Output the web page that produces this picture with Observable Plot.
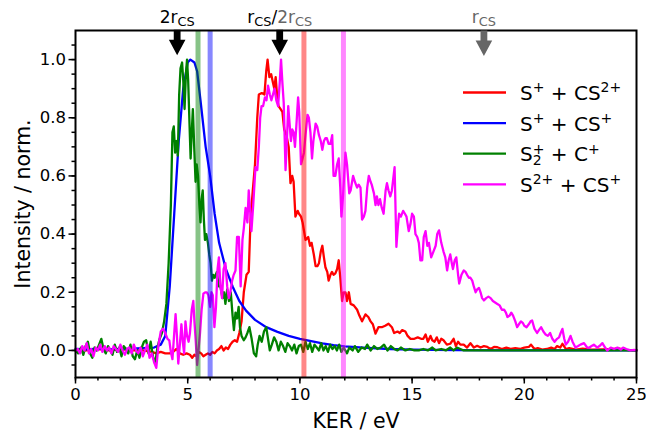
<!DOCTYPE html>
<html>
<head>
<meta charset="utf-8">
<script src="https://cdn.jsdelivr.net/npm/d3@7"></script>
<script src="https://cdn.jsdelivr.net/npm/@observablehq/plot@0.6"></script>
<style>
html,body{margin:0;padding:0;background:#fff;}
#chart svg{display:block;}
</style>
</head>
<body>
<div id="chart"></div>
<script>
// ---- Data (KER in eV, normalized intensity) ----
const seriesLabels = ["S^{+} + CS^{2+}", "S^{+} + CS^{+}", "S_{2}^{+} + C^{+}", "S^{2+} + CS^{+}"];
const seriesColors = ["#ff0000", "#0000ff", "#008000", "#ff00ff"];

const redData = [[0,0],[0.5,0],[1,0.005],[1.5,0],[2,0.005],[2.5,0],[3,0],[3.4,-0.005],[3.6,-0.01],[3.8,-0.005],[4,-0.01],[4.2,-0.01],[4.35,-0.005],[4.5,0.005],[4.65,-0.01],[4.8,-0.015],[4.95,-0.01],[5.1,-0.015],[5.2,-0.025],[5.3,-0.015],[5.4,-0.02],[5.5,-0.005],[5.6,-0.01],[5.7,-0.02],[5.8,-0.015],[5.9,-0.01],[6,-0.015],[6.1,-0.005],[6.2,-0.01],[6.3,0],[6.4,0.005],[6.5,0.015],[6.6,0],[6.7,0.01],[6.8,0.005],[6.9,0.02],[7,0.03],[7.1,0.035],[7.2,0.03],[7.3,0.06],[7.4,0.1],[7.5,0.2],[7.62,0.26],[7.72,0.27],[7.8,0.45],[7.9,0.55],[8,0.64],[8.1,0.8],[8.17,0.88],[8.3,0.885],[8.42,0.88],[8.5,0.96],[8.56,1.0],[8.64,0.94],[8.72,0.95],[8.8,0.92],[8.86,0.9],[8.92,0.94],[9,0.86],[9.05,0.84],[9.14,0.83],[9.22,0.82],[9.3,0.76],[9.4,0.74],[9.5,0.7],[9.58,0.575],[9.66,0.6],[9.72,0.58],[9.8,0.46],[9.9,0.48],[9.96,0.47],[10.05,0.46],[10.12,0.44],[10.25,0.38],[10.37,0.39],[10.45,0.36],[10.52,0.37],[10.62,0.33],[10.7,0.29],[10.78,0.29],[10.85,0.3],[10.93,0.34],[11,0.36],[11.07,0.32],[11.14,0.285],[11.22,0.27],[11.28,0.24],[11.36,0.26],[11.43,0.27],[11.5,0.26],[11.58,0.265],[11.66,0.28],[11.73,0.31],[11.8,0.25],[11.88,0.17],[11.95,0.2],[12.03,0.2],[12.1,0.17],[12.18,0.2],[12.26,0.16],[12.4,0.155],[12.55,0.14],[12.65,0.12],[12.77,0.1],[12.92,0.124],[13.05,0.115],[13.15,0.1],[13.25,0.09],[13.37,0.058],[13.5,0.08],[13.65,0.08],[13.8,0.085],[13.95,0.092],[14.1,0.08],[14.2,0.06],[14.35,0.065],[14.45,0.06],[14.56,0.07],[14.7,0.065],[14.8,0.05],[14.93,0.04],[15.1,0.04],[15.25,0.045],[15.4,0.04],[15.5,0.04],[15.6,0.055],[15.7,0.03],[15.82,0.05],[15.9,0.035],[16,0.03],[16.1,0.045],[16.2,0.025],[16.3,0.04],[16.4,0.035],[16.55,0.02],[16.7,0.023],[16.85,0.04],[16.95,0.015],[17.05,0.03],[17.15,0.02],[17.3,0.02],[17.45,0.01],[17.6,0.025],[17.75,0.01],[17.9,0.016],[18.05,0.01],[18.2,0.015],[18.35,0.012],[18.5,0.005],[18.65,0.012],[18.8,0.011],[19,0.005],[19.2,0.01],[19.4,0.005],[19.6,0.008],[19.8,0.005],[20,0.01],[20.2,0.012],[20.3,0.02],[20.45,0.005],[20.6,0.008],[20.8,0.003],[21,0.005],[21.2,0.01],[21.35,0.005],[21.46,0.015],[21.6,0.01],[21.7,0.023],[21.85,0.005],[22,0.008],[22.3,0.003],[22.6,0.006],[23,0.003],[23.5,0.004],[24,0.005],[24.14,0.008],[24.5,0.002],[25,0]];

const blueData = [[0,0.005],[0.5,0.004],[1,0.006],[1.5,0.004],[2,0.005],[2.5,0.006],[3,0.008],[3.5,0.01],[3.8,0.02],[4,0.05],[4.2,0.22],[4.4,0.47],[4.6,0.72],[4.8,0.9],[5,0.99],[5.12,1],[5.3,0.99],[5.42,0.96],[5.57,0.86],[5.8,0.7],[6,0.6],[6.2,0.47],[6.4,0.37],[6.7,0.28],[7,0.22],[7.3,0.17],[7.6,0.137],[8,0.105],[8.5,0.08],[9,0.064],[9.5,0.05],[10,0.04],[10.5,0.032],[11,0.024],[11.5,0.018],[12,0.014],[13,0.009],[14,0.005],[15,0.003],[17,0.001],[20,0],[25,0]];

const greenData = [[0,0],[0.12,-0.01],[0.25,0.01],[0.35,-0.015],[0.45,0.015],[0.55,0.03],[0.65,-0.01],[0.75,-0.025],[0.85,0.01],[0.95,0],[1.05,0.02],[1.15,0.04],[1.25,0.005],[1.35,-0.01],[1.45,0.015],[1.55,0],[1.65,-0.015],[1.75,0.02],[1.85,-0.005],[1.95,0.01],[2.05,-0.02],[2.15,0.015],[2.25,0.005],[2.35,-0.01],[2.45,0.02],[2.55,-0.02],[2.65,-0.03],[2.75,0],[2.85,-0.025],[2.95,0.01],[3.05,0.03],[3.15,0.035],[3.25,-0.01],[3.35,0.03],[3.45,-0.02],[3.55,-0.045],[3.65,0.01],[3.75,0.04],[3.85,0.06],[3.95,0.1],[4.05,0.16],[4.15,0.3],[4.25,0.5],[4.32,0.75],[4.38,0.77],[4.44,0.68],[4.5,0.72],[4.56,0.67],[4.62,0.88],[4.68,0.97],[4.75,0.99],[4.8,0.93],[4.86,0.83],[4.92,0.95],[4.97,1.0],[5.02,0.93],[5.08,0.78],[5.13,0.66],[5.18,0.75],[5.23,0.83],[5.29,0.7],[5.35,0.58],[5.4,0.64],[5.46,0.6],[5.52,0.5],[5.57,0.44],[5.62,0.52],[5.67,0.55],[5.72,0.45],[5.77,0.38],[5.83,0.4],[5.9,0.37],[5.96,0.33],[6.02,0.3],[6.08,0.24],[6.14,0.26],[6.2,0.25],[6.3,0.27],[6.38,0.22],[6.46,0.22],[6.55,0.18],[6.62,0.2],[6.68,0.16],[6.76,0.21],[6.84,0.17],[6.92,0.2],[7,0.12],[7.06,0.07],[7.13,0.13],[7.2,0.11],[7.27,0.15],[7.33,0.08],[7.4,0.05],[7.5,0.035],[7.58,0.045],[7.66,0.06],[7.75,0.08],[7.85,0.04],[7.95,-0.01],[8.05,-0.02],[8.12,0.02],[8.2,0.05],[8.3,0.03],[8.4,0.065],[8.5,0.08],[8.58,0.04],[8.66,0],[8.75,0.02],[8.85,0.045],[8.95,0.03],[9.05,0],[9.15,0.03],[9.25,0.015],[9.35,-0.005],[9.45,0.025],[9.55,0.015],[9.65,0],[9.75,0.02],[9.85,-0.01],[9.95,0.015],[10.05,0.02],[10.15,-0.005],[10.25,0.03],[10.35,0.005],[10.45,0.025],[10.55,-0.005],[10.65,0.02],[10.75,0.01],[10.85,0],[10.95,0.025],[11.05,0],[11.15,0.015],[11.25,-0.005],[11.35,0.02],[11.45,0.005],[11.55,0.015],[11.65,0],[11.75,0.02],[11.85,-0.005],[11.95,0.01],[12.1,-0.01],[12.2,0.01],[12.35,0],[12.45,0.015],[12.6,-0.005],[12.75,0.01],[12.9,0.005],[13,0.02],[13.15,0],[13.3,0.015],[13.45,0.005],[13.6,0.01],[13.75,0.02],[13.9,0],[14.05,0.015],[14.2,0.005],[14.35,0],[14.5,0.01],[14.7,0],[14.9,0.005],[15.1,0],[15.3,0],[15.5,0.005],[15.7,0],[15.9,0.01],[16.05,0],[16.3,0.005],[16.5,0],[16.7,0.01],[16.85,0],[17,0.01],[17.3,0],[18,0],[20,0],[22,0],[25,0]];

const magentaData = [[0,0],[0.1,0.005],[0.2,-0.01],[0.3,0.015],[0.4,0],[0.5,0.025],[0.6,-0.01],[0.7,0.005],[0.8,-0.02],[0.9,0.01],[1,0],[1.1,0.02],[1.2,-0.005],[1.3,0.015],[1.4,0],[1.5,0.01],[1.6,-0.01],[1.7,0.015],[1.8,0.005],[1.9,-0.005],[2,0.02],[2.1,0],[2.2,-0.015],[2.3,0.005],[2.4,0.01],[2.5,-0.01],[2.6,0.02],[2.7,0],[2.8,-0.01],[2.9,0.01],[3,-0.02],[3.1,0],[3.2,0.02],[3.3,-0.025],[3.4,-0.01],[3.5,-0.04],[3.6,-0.06],[3.7,0.02],[3.8,0.065],[3.9,0.075],[4,0.06],[4.1,0.04],[4.18,0.035],[4.25,-0.005],[4.32,-0.03],[4.4,0.06],[4.46,0.125],[4.52,0.05],[4.58,-0.045],[4.65,0.02],[4.72,0.09],[4.78,0.03],[4.84,-0.01],[4.9,0.1],[4.97,0.05],[5.04,0.03],[5.1,0.06],[5.18,0.14],[5.25,0.17],[5.3,0.1],[5.36,0.03],[5.42,-0.05],[5.48,0],[5.55,0.06],[5.62,0.14],[5.7,0.195],[5.78,0.2],[5.85,0.2],[5.92,0.19],[6,0.15],[6.06,0.2],[6.12,0.19],[6.19,0.08],[6.26,0.15],[6.33,0.28],[6.39,0.32],[6.46,0.22],[6.53,0.18],[6.6,0.28],[6.68,0.3],[6.76,0.22],[6.83,0.18],[6.9,0.2],[6.98,0.24],[7.05,0.26],[7.13,0.275],[7.2,0.39],[7.28,0.39],[7.36,0.22],[7.44,0.38],[7.5,0.42],[7.58,0.49],[7.66,0.44],[7.72,0.55],[7.8,0.46],[7.84,0.41],[7.92,0.5],[8.02,0.63],[8.1,0.62],[8.17,0.7],[8.23,0.8],[8.29,0.84],[8.36,0.84],[8.44,0.87],[8.51,0.86],[8.58,0.91],[8.66,0.88],[8.73,0.86],[8.8,0.88],[8.87,0.9],[8.95,0.86],[9.03,0.84],[9.1,0.92],[9.16,1.0],[9.22,0.92],[9.28,0.85],[9.36,0.62],[9.42,0.72],[9.48,0.84],[9.54,0.78],[9.6,0.72],[9.66,0.76],[9.72,0.75],[9.78,0.7],[9.84,0.77],[9.92,0.87],[9.97,0.82],[10.05,0.64],[10.12,0.66],[10.18,0.68],[10.25,0.74],[10.34,0.81],[10.4,0.8],[10.47,0.75],[10.54,0.66],[10.6,0.72],[10.7,0.78],[10.77,0.77],[10.85,0.74],[10.93,0.72],[11,0.69],[11.07,0.72],[11.14,0.73],[11.2,0.73],[11.28,0.71],[11.36,0.71],[11.44,0.74],[11.5,0.6],[11.58,0.6],[11.66,0.64],[11.73,0.66],[11.8,0.56],[11.85,0.46],[11.92,0.53],[12.03,0.68],[12.1,0.64],[12.2,0.54],[12.26,0.55],[12.37,0.6],[12.45,0.58],[12.55,0.56],[12.62,0.57],[12.7,0.56],[12.77,0.45],[12.85,0.46],[12.92,0.48],[13,0.56],[13.07,0.6],[13.15,0.58],[13.2,0.57],[13.3,0.54],[13.37,0.5],[13.43,0.53],[13.5,0.5],[13.57,0.52],[13.65,0.49],[13.73,0.47],[13.82,0.55],[13.88,0.575],[13.95,0.55],[14.03,0.53],[14.1,0.55],[14.22,0.63],[14.3,0.356],[14.36,0.42],[14.42,0.47],[14.5,0.46],[14.6,0.48],[14.68,0.47],[14.75,0.46],[14.85,0.41],[14.93,0.436],[15,0.47],[15.08,0.46],[15.15,0.4],[15.23,0.39],[15.3,0.37],[15.37,0.31],[15.45,0.31],[15.52,0.39],[15.6,0.41],[15.68,0.36],[15.75,0.37],[15.85,0.32],[15.95,0.34],[16.05,0.36],[16.12,0.4],[16.2,0.413],[16.3,0.37],[16.4,0.34],[16.48,0.32],[16.56,0.275],[16.63,0.31],[16.7,0.33],[16.77,0.3],[16.82,0.28],[16.9,0.31],[16.97,0.32],[17.05,0.26],[17.1,0.23],[17.2,0.26],[17.3,0.275],[17.38,0.27],[17.45,0.26],[17.53,0.25],[17.6,0.25],[17.68,0.24],[17.75,0.22],[17.83,0.2],[17.9,0.21],[17.98,0.215],[18.05,0.2],[18.12,0.18],[18.2,0.172],[18.3,0.18],[18.4,0.185],[18.5,0.18],[18.6,0.17],[18.7,0.165],[18.8,0.16],[18.9,0.155],[19,0.14],[19.1,0.14],[19.18,0.13],[19.25,0.115],[19.35,0.12],[19.42,0.13],[19.5,0.12],[19.6,0.1],[19.68,0.08],[19.76,0.09],[19.85,0.1],[19.93,0.095],[20,0.085],[20.1,0.08],[20.2,0.09],[20.28,0.1],[20.35,0.103],[20.45,0.075],[20.57,0.06],[20.65,0.07],[20.75,0.08],[20.85,0.065],[20.95,0.055],[21.05,0.05],[21.15,0.06],[21.25,0.04],[21.35,0.03],[21.46,0.04],[21.55,0.045],[21.62,0.06],[21.7,0.074],[21.78,0.04],[21.85,0.02],[21.95,0.03],[22.06,0.05],[22.15,0.03],[22.28,0.01],[22.4,0.015],[22.5,0.02],[22.66,0.025],[22.8,0.01],[22.9,0.01],[23,0.015],[23.1,0.02],[23.25,0.01],[23.35,0.015],[23.48,0.025],[23.6,0.01],[23.7,0],[23.85,0.01],[24,0.005],[24.15,0.01],[24.3,0.003],[24.4,0.01],[24.55,0.005],[24.73,0],[24.9,0.002],[25,0]];

// marker bands (KER positions)
const bandX = [5.46, 6.0, 10.18, 11.94];
const bandColors = ["#008000", "#0000ff", "#ff0000", "#ff00ff"];

// arrows with labels at top
const arrowX = [4.53, 9.1, 18.2];
const arrowTipY = [1.015, 1.015, 1.012];
const arrowColors = ["black", "black", "#666666"];
const arrowLabelParts = [
  [["2r_{CS}", "black"]],
  [["r_{CS}/", "black"], ["2r_{CS}", "#666666"]],
  [["r_{CS}", "#666666"]]
];

// ticks
const xTicks = [0, 5, 10, 15, 20, 25];
const xMinorTicks = d3.range(0, 26, 1);
const yTicks = [0, 0.2, 0.4, 0.6, 0.8, 1.0];
const yMinorTicks = d3.range(-1, 22).map(i => i * 0.05);

const xLabel = "KER / eV";
const yLabel = "Intensity / norm.";

// ---- Chart ----
const allSeries = [redData, blueData, greenData, magentaData];

const arrowSymbol = {
  draw(ctx) {
    ctx.moveTo(-3.4, -25.5);
    ctx.lineTo(3.4, -25.5);
    ctx.lineTo(3.4, -15.5);
    ctx.lineTo(8.3, -15.5);
    ctx.lineTo(0, 0);
    ctx.lineTo(-8.3, -15.5);
    ctx.lineTo(-3.4, -15.5);
    ctx.closePath();
  }
};

const stripMarkup = s => s.replace(/[_^]\{([^}]*)\}/g, "$1");

const svg = Plot.plot({
  width: 646,
  height: 433,
  marginLeft: 75,
  marginRight: 10,
  marginTop: 30,
  marginBottom: 56,
  style: {fontFamily: "'DejaVu Sans', sans-serif", background: "white", color: "black", overflow: "visible"},
  x: {domain: [0, 25]},
  y: {domain: [-0.093, 1.1]},
  color: {type: "identity"},
  marks: [
    ...allSeries.map((s, i) => Plot.line(s, {x: d => d[0], y: d => d[1], stroke: seriesColors[i], strokeWidth: 2.3})),
    Plot.ruleX(bandX, {x: d => d, stroke: (d, i) => bandColors[i], strokeWidth: 5, strokeOpacity: 0.47}),
    Plot.axisX({ticks: xMinorTicks, tickSize: 3.5, tickFormat: () => "", strokeWidth: 1.5, label: null}),
    Plot.axisX({ticks: xTicks, tickSize: 6.5, tickPadding: 4, tickFormat: d3.format("d"), fontSize: 16.5, strokeWidth: 1.5, label: null}),
    Plot.axisY({ticks: yMinorTicks, tickSize: 3.5, tickFormat: () => "", strokeWidth: 1.5, label: null}),
    Plot.axisY({ticks: yTicks, tickSize: 6.5, tickPadding: 3, tickFormat: d3.format(".1f"), fontSize: 16.5, strokeWidth: 1.5, label: null}),
    Plot.frame({stroke: "black", strokeWidth: 2}),
    Plot.dot(arrowX, {x: d => d, y: (d, i) => arrowTipY[i], symbol: arrowSymbol, fill: (d, i) => arrowColors[i], stroke: "none", r: 5}),
    Plot.text(arrowX, {x: d => d, text: (d, i) => arrowLabelParts[i].map(p => stripMarkup(p[0])).join(""), frameAnchor: "top", dy: -8, lineAnchor: "bottom", fontSize: 17, className: "arrow-label"}),
    Plot.text([xLabel], {text: d => d, frameAnchor: "bottom", dy: 50, lineAnchor: "bottom", fontSize: 20.5}),
    Plot.text([yLabel], {text: d => d, frameAnchor: "left", textAnchor: "middle", dx: -52, rotate: -90, fontSize: 20.5})
  ]
});

document.getElementById("chart").appendChild(svg);

// ---- rich text (sub/superscripts) ----
function richText(textNode, parts, size, opts) {
  const t = d3.select(textNode);
  const baseDy = t.attr("dy");
  let extra = 0;
  if (baseDy) { extra = baseDy.endsWith("em") ? parseFloat(baseDy) * size : parseFloat(baseDy); t.attr("dy", null); }
  t.text(null);
  let shift = 0, lastSub = null, first = true;
  for (const [markup, color] of parts) {
    const re = /_\{([^}]*)\}|\^\{([^}]*)\}|([^_^]+)/g;
    let m;
    while ((m = re.exec(markup))) {
      const ts = t.append("tspan").attr("fill", color);
      let target = 0, fs = size;
      if (m[1] != null) { target = opts.sub * size; fs = size * opts.scale; ts.text(m[1]); }
      else if (m[2] != null) { target = -opts.sup * size; fs = size * opts.scale; ts.text(m[2]); }
      else { ts.text(m[3]); }
      ts.attr("font-size", fs);
      if (m[2] != null && lastSub) ts.attr("dx", -lastSub.getComputedTextLength());
      ts.attr("dy", target - shift + (first ? extra : 0));
      first = false;
      shift = target;
      lastSub = m[1] != null ? ts.node() : null;
    }
  }
}

svg.querySelectorAll("g.arrow-label text").forEach((node, i) => {
  richText(node, arrowLabelParts[i], 17, {sub: 0.2, sup: 0.38, scale: 0.76});
});

// ---- legend (inside plot, upper right) ----
const lg = d3.select(svg).append("g")
  .attr("font-family", "'DejaVu Sans', sans-serif")
  .attr("text-anchor", "start");
seriesLabels.forEach((lab, i) => {
  const cy = 92.5 + i * 30.6;
  lg.append("line").attr("x1", 463).attr("x2", 506).attr("y1", cy).attr("y2", cy)
    .attr("stroke", seriesColors[i]).attr("stroke-width", 2.3);
  const tx = lg.append("text").attr("x", 520).attr("y", cy + 7.5)
    .attr("font-size", 20).attr("fill", "black").attr("text-anchor", "start");
  richText(tx.node(), [[lab, "black"]], 20, {sub: 0.17, sup: 0.38, scale: 0.7});
});
</script>
</body>
</html>
